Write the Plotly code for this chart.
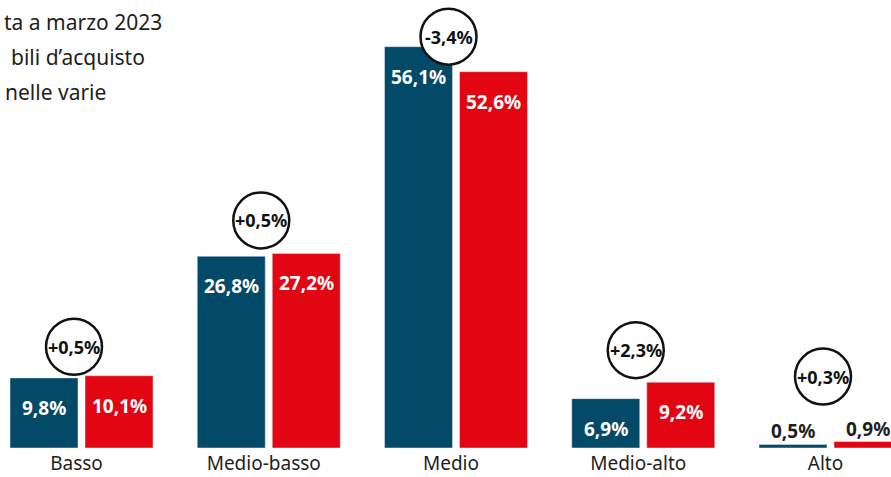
import plotly.graph_objects as go

categories = ["Basso", "Medio-basso", "Medio", "Medio-alto", "Alto"]
blue_values = [9.8, 26.8, 56.1, 6.9, 0.5]
red_values = [10.1, 27.2, 52.6, 9.2, 0.9]
diff_values = [0.5, 0.5, -3.4, 2.3, 0.3]
title_lines = ["ta a marzo 2023", "bili d\u2019acquisto", "nelle varie"]

BLUE = "#034a69"
RED = "#e20613"
DARK = "#1e1e1e"
FONT = "Noto Sans"

W, H = 891, 477
MB = 29
PX = 187.25            # pixels per category

bar_w = 68 / PX
blue_off = -66.5 / PX
red_off = 8.5 / PX

def fmt(v, sign=False):
    s = f"{v:+.1f}" if sign else f"{v:.1f}"
    return s.replace(".", ",") + "%"

xs = list(range(len(categories)))

fig = go.Figure()
fig.add_trace(go.Bar(x=xs, y=blue_values, marker_color=BLUE, width=bar_w,
                     offset=blue_off, hoverinfo="skip", showlegend=False))
fig.add_trace(go.Bar(x=xs, y=red_values, marker_color=RED, width=bar_w,
                     offset=red_off, hoverinfo="skip", showlegend=False))

annotations = []
for vals, off in ((blue_values, blue_off), (red_values, red_off)):
    for i, v in enumerate(vals):
        inside = v >= 2
        annotations.append(dict(
            x=i + off + bar_w / 2, y=v, xref="x", yref="y",
            text=f"<b>{fmt(v)}</b>", showarrow=False,
            font=dict(family=FONT, size=19, color="white" if inside else DARK),
            yshift=-30 if inside else 13, yanchor="middle", xanchor="center"))

# difference circles
circle_lift = [29, 33, 10, 32, 65]   # px above the taller bar
R = 28
shapes = []
for i, d in enumerate(diff_values):
    top = max(blue_values[i], red_values[i])
    cy = circle_lift[i]
    shapes.append(dict(type="circle", xref="x", yref="y",
                       xsizemode="pixel", ysizemode="pixel",
                       xanchor=i, yanchor=top,
                       x0=-2.5 - R, x1=-2.5 + R, y0=cy - R, y1=cy + R,
                       line=dict(color="#111111", width=2.5),
                       fillcolor="white", layer="above"))
    annotations.append(dict(x=i, y=top, xref="x", yref="y",
                            text=f"<b>{fmt(d, True)}</b>", showarrow=False,
                            xshift=-2.5, yshift=cy, yanchor="middle",
                            font=dict(family=FONT, size=18, color="#111111")))

plot_h = H - MB
title_right = [164, 147, 108]
title_y = [22, 57, 92]
for line, xr, yc in zip(title_lines, title_right, title_y):
    annotations.append(dict(x=xr / W, y=1 - yc / plot_h, xref="paper", yref="paper",
                            text=line, showarrow=False, xanchor="right",
                            yanchor="middle",
                            font=dict(family=FONT, size=21, color=DARK)))

fig.update_layout(
    width=W, height=H,
    margin=dict(l=0, r=0, t=0, b=MB, autoexpand=False),
    plot_bgcolor="white", paper_bgcolor="white",
    barmode="overlay",
    shapes=shapes, annotations=annotations,
    xaxis=dict(range=[-76.5 / PX, (W - 76.5) / PX], tickvals=xs,
               ticktext=categories, showgrid=False, zeroline=False,
               showline=False, ticks="", ticklabelstandoff=2, automargin=False,
               tickfont=dict(family=FONT, size=19, color=DARK), fixedrange=True),
    yaxis=dict(range=[0, 62.62], visible=False, showgrid=False, zeroline=False,
               automargin=False, fixedrange=True),
    font=dict(family=FONT),
)

fig.write_html("out.html", config={"displayModeBar": False})
